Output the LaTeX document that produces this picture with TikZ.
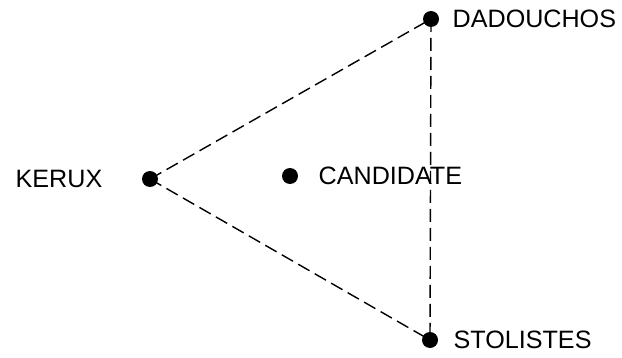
\documentclass[tikz,border=0pt]{standalone}
\usepackage{fontspec}
\setmainfont{Liberation Sans}
\usetikzlibrary{positioning}

\tikzset{
  officer/.style={circle,fill=black,inner sep=0pt,minimum size=0.32cm},
  tag/.style={font=\fontsize{14.3}{17}\selectfont,inner sep=0pt},
  link/.style={line width=0.8pt,dash pattern=on 0.26cm off 0.12cm}
}

\begin{document}
\begin{tikzpicture}
\useasboundingbox (0,0) rectangle (12.44,-7.16);
\node[officer] (dad) at (8.62,-0.38) {};
\node[officer] (ker) at (3.00,-3.58) {};
\node[officer] (can) at (5.80,-3.52) {};
\node[officer] (sto) at (8.60,-6.80) {};
\node[tag,right=0.26cm of dad] (daddesc) {DADOUCHOS};
\node[tag,left=0.78cm of ker] (kerdesc) {KERUX};
\node[tag,right=0.40cm of can] (candesc) {CANDIDATE};
\node[tag,right=0.30cm of sto] (stodesc) {STOLISTES};
\draw[link] (ker.center) -- (dad.center);
\draw[link] (ker.center) -- (sto.center);
\draw[link] (dad.center) -- (sto.center);
\end{tikzpicture}
\end{document}
